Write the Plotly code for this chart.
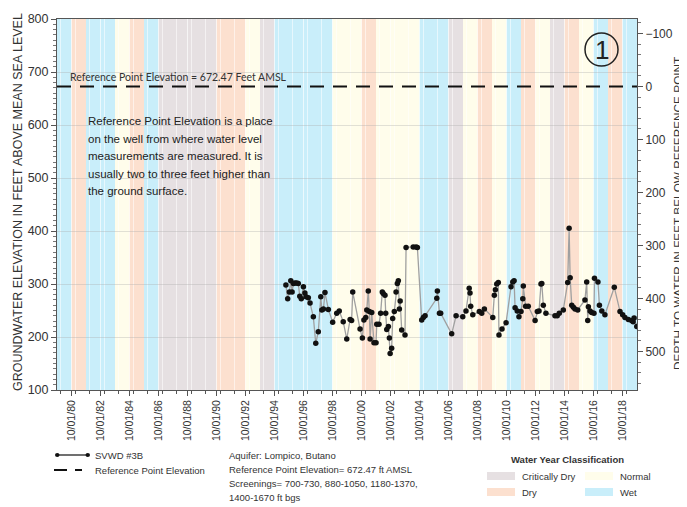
import plotly.graph_objects as go

# SVWD #3B groundwater elevation (ft AMSL)
dates = [
    "1995-07-15", "1995-08-29", "1995-10-10", "1995-11-15", "1995-12-18",
    "1996-01-20", "1996-02-28", "1996-04-12", "1996-05-22", "1996-06-28",
    "1996-08-05", "1996-09-28", "1996-11-05", "1996-12-02",
    "1997-01-30", "1997-03-14", "1997-06-05", "1997-08-05", "1997-10-08",
    "1997-12-10", "1998-01-05", "1998-02-15", "1998-03-25", "1998-06-18",
    "1998-10-05", "1999-01-15", "1999-03-20", "1999-06-28", "1999-09-25",
    "1999-12-18", "2000-01-25", "2000-02-22", "2000-08-25", "2000-10-22",
    "2000-11-30", "2001-01-15", "2001-02-10", "2001-03-20", "2001-04-15",
    "2001-05-05", "2001-06-15", "2001-08-10", "2001-10-01", "2001-10-20",
    "2001-12-15", "2002-01-25", "2002-03-08", "2002-04-01", "2002-05-15",
    "2002-06-02", "2002-06-28", "2002-08-08", "2002-09-02", "2002-09-22",
    "2002-10-30", "2002-11-25", "2003-01-05", "2003-02-18", "2003-03-22",
    "2003-04-16", "2003-05-12", "2003-06-01", "2003-07-10", "2003-10-01",
    "2003-10-28", "2004-04-25", "2004-07-05", "2004-08-08", "2004-11-25",
    "2005-01-05", "2005-02-18", "2005-12-10", "2005-12-25", "2006-02-15",
    "2006-03-18", "2006-12-20", "2007-04-10", "2007-09-25", "2007-12-15",
    "2008-03-05", "2008-03-25", "2008-04-12", "2008-06-03", "2008-11-15",
    "2009-01-15", "2009-03-22", "2009-10-20", "2009-11-28", "2009-12-25",
    "2010-01-28", "2010-03-08", "2010-03-25", "2010-06-10", "2010-09-20",
    "2011-01-22", "2011-03-08", "2011-04-10", "2011-05-05", "2011-06-28",
    "2011-08-10", "2011-10-01", "2011-11-15", "2011-11-28", "2012-01-25",
    "2012-04-01", "2012-09-20", "2012-11-15", "2012-12-28", "2013-02-15",
    "2013-03-08", "2013-04-15", "2013-06-20", "2014-02-03", "2014-04-01",
    "2014-05-22", "2014-09-01", "2014-12-20", "2015-01-25", "2015-02-20",
    "2015-04-01", "2015-05-12", "2015-06-22", "2015-08-30", "2016-02-28",
    "2016-04-12", "2016-05-08", "2016-05-24", "2016-07-05", "2016-08-15",
    "2016-10-12", "2016-10-25", "2017-01-20", "2017-02-26", "2017-04-28",
    "2017-07-15", "2018-03-08", "2018-07-30", "2018-10-05", "2018-12-01",
    "2019-02-25", "2019-05-15", "2019-06-25", "2019-07-20", "2019-09-25",
]
elev = [
    298, 272, 285, 306, 285,
    301, 302, 302, 301, 277,
    272, 295, 283, 276,
    274, 264, 238, 188, 210,
    276, 251, 253, 284, 252,
    228, 245, 249, 229, 196,
    233, 231, 285, 215, 198,
    232, 237, 251, 287, 248,
    196, 246, 189, 189, 224,
    224, 245, 285, 282, 279,
    245, 214, 220, 198, 169,
    179, 235, 248, 285, 301,
    306, 253, 268, 213, 204,
    369, 370, 370, 369, 232,
    237, 240, 273, 287, 245,
    245, 206, 240, 238, 249,
    292, 283, 258, 242, 248,
    245, 253, 237, 279, 289,
    300, 303, 204, 215, 227,
    295, 304, 306, 255, 249,
    238, 248, 272, 296, 258,
    258, 231, 248, 249, 300,
    301, 260, 245, 240, 240,
    245, 251, 303, 405, 312,
    260, 256, 253, 251, 270,
    304, 231, 257, 249, 246,
    245, 311, 304, 260, 249,
    242, 294, 248, 242, 237,
    233, 231, 229, 236, 220,
]

ref_elev = 672.47

# water year classification, WY1980 .. WY2019
water_years = list(range(1980, 2020))
wy_class = [
    "W", "D", "W", "W", "N", "D", "W", "CD", "CD", "CD",
    "CD", "D", "D", "N", "CD", "W", "W", "W", "W", "N",
    "N", "D", "N", "N", "N", "W", "W", "CD", "N", "D",
    "N", "W", "D", "N", "CD", "D", "N", "W", "D", "W",
]
class_names = {"CD": "Critically Dry", "D": "Dry", "N": "Normal", "W": "Wet"}
class_colors = {"CD": "#e6e0e2", "D": "#fce0cf", "N": "#fffdeb", "W": "#c9eefa"}

note_lines = [
    "Reference Point Elevation is a place",
    "on the well from where water level",
    "measurements are measured. It is",
    "usually two to three feet higher than",
    "the ground surface.",
]
info_lines = [
    "Aquifer: Lompico, Butano",
    "Reference Point Elevation= 672.47 ft AMSL",
    "Screenings= 700-730, 880-1050, 1180-1370,",
    "1400-1670 ft bgs",
]

FONT = "Liberation Sans, Arial"
TXT = "#333333"

# page body has an 8px margin, so the figure starts at (8, 8) in the window
OFF = 8
W, H = 687 - OFF, 507 - OFF
# plot area in window pixels
L, R, T, B = 57, 637, 19, 390


def px(x):
    return (x - L) / (R - L)


def py(y):
    return (B - y) / (B - T)


def label(x, y, text, size=9.5, **kw):
    return dict(xref="paper", yref="paper", x=px(x), y=py(y), text=text,
                showarrow=False, xanchor=kw.pop("xanchor", "left"),
                yanchor="middle",
                font=dict(family=kw.pop("family", FONT), size=size,
                          color=kw.pop("color", TXT)), **kw)


fig = go.Figure()

fig.add_trace(go.Scatter(
    x=dates, y=elev, mode="lines+markers",
    line=dict(color="#a0a0a0", width=1.3),
    marker=dict(color="#111111", size=5.5),
    showlegend=False, hoverinfo="x+y",
))

# reference point = depth 0 on the right axis
fig.add_trace(go.Scatter(
    x=["1979-10-01", "2019-10-01"], y=[0, 0], yaxis="y2", mode="lines",
    line=dict(color="#111111", width=2, dash="14px,9px"),
    showlegend=False, hoverinfo="skip",
))

shapes = []
for wy, c in zip(water_years, wy_class):
    shapes.append(dict(
        type="rect", xref="x", yref="paper",
        x0=f"{wy - 1}-10-01", x1=f"{wy}-10-01", y0=0, y1=1,
        fillcolor=class_colors[c], line=dict(width=0), layer="below",
    ))

# circled "1" in the upper right
shapes.append(dict(type="circle", xref="paper", yref="paper",
                   x0=px(585), x1=px(618), y0=py(66), y1=py(33),
                   line=dict(color="#222", width=1.5)))

# bottom legend: series and reference line
shapes += [
    dict(type="line", xref="paper", yref="paper", x0=px(57), x1=px(88),
         y0=py(455), y1=py(455), line=dict(color="#111", width=1.2)),
    dict(type="circle", xref="paper", yref="paper", x0=px(55), x1=px(59.5),
         y0=py(457), y1=py(453), fillcolor="#111", line=dict(width=0)),
    dict(type="circle", xref="paper", yref="paper", x0=px(85.5), x1=px(90),
         y0=py(457), y1=py(453), fillcolor="#111", line=dict(width=0)),
    dict(type="line", xref="paper", yref="paper", x0=px(54), x1=px(67),
         y0=py(470), y1=py(470), line=dict(color="#111", width=2)),
    dict(type="line", xref="paper", yref="paper", x0=px(75), x1=px(82),
         y0=py(470), y1=py(470), line=dict(color="#111", width=2)),
]

annotations = [
    label(68, 77, "Reference Point Elevation = 672.47 Feet AMSL", size=10.5,
          family="Lato, Liberation Sans"),
    label(601.5, 50, "1", size=26, xanchor="center", color="#222"),
    label(18, 202, "GROUNDWATER ELEVATION IN FEET ABOVE MEAN SEA LEVEL",
          size=12.5, xanchor="center", textangle=-90),
    label(678, 214, "DEPTH TO WATER IN FEET BELOW REFERENCE POINT",
          size=11.8, xanchor="center", textangle=-90),
    label(93, 455, "SVWD #3B"),
    label(93, 470, "Reference Point Elevation"),
    label(567, 459, "<b>Water Year Classification</b>", xanchor="center"),
]
for i, line in enumerate(note_lines):
    annotations.append(label(86, 121 + 17.5 * i, line, size=11.5, color="#222"))
for i, line in enumerate(info_lines):
    annotations.append(label(227, 455 + 14.3 * i, line))

# water year classification legend
legend_items = [("CD", 487, 476), ("N", 585, 476), ("D", 487, 492), ("W", 585, 492)]
for key, x0, yc in legend_items:
    shapes.append(dict(type="rect", xref="paper", yref="paper",
                       x0=px(x0), x1=px(x0 + 28), y0=py(yc + 4), y1=py(yc - 4),
                       fillcolor=class_colors[key], line=dict(width=0)))
    annotations.append(label(x0 + 33, yc, class_names[key]))

fig.update_layout(
    width=W, height=H,
    margin=dict(l=L - OFF, r=687 - R, t=T - OFF, b=507 - B, autoexpand=False),
    paper_bgcolor="white", plot_bgcolor="white",
    shapes=shapes, annotations=annotations,
    xaxis=dict(
        type="date", range=["1979-10-01", "2019-10-01"], automargin=False,
        tick0="1980-10-01", dtick="M24", tickformat="%m/%d/%y",
        tickangle=-90, ticks="outside", ticklen=5, tickcolor="#555",
        tickfont=dict(family=FONT, size=10.5, color=TXT),
        showgrid=True, gridcolor="rgba(255,255,255,0.55)", gridwidth=1,
        minor=dict(dtick="M12", showgrid=True, gridcolor="rgba(255,255,255,0.55)",
                   ticks="outside", ticklen=3, tickcolor="#555"),
        showline=True, linecolor="#555", linewidth=1, mirror=True,
        zeroline=False,
    ),
    yaxis=dict(
        range=[100, 800], dtick=100, automargin=False,
        ticks="outside", ticklen=5, tickcolor="#555",
        tickfont=dict(family=FONT, size=12.5, color=TXT),
        showgrid=True, gridcolor="rgba(170,170,170,0.35)",
        minor=dict(dtick=10, ticks="outside", ticklen=3, tickcolor="#777"),
        showline=True, linecolor="#555", linewidth=1, zeroline=False,
    ),
    yaxis2=dict(
        overlaying="y", side="right", range=[ref_elev - 100, ref_elev - 800],
        automargin=False, tick0=0, dtick=100,
        ticks="outside", ticklen=5, tickcolor="#555",
        tickfont=dict(family=FONT, size=12, color=TXT),
        minor=dict(dtick=20, ticks="outside", ticklen=3, tickcolor="#777"),
        showgrid=False, showline=True, linecolor="#555", linewidth=1,
        zeroline=False,
    ),
)

fig.write_html("out.html")
